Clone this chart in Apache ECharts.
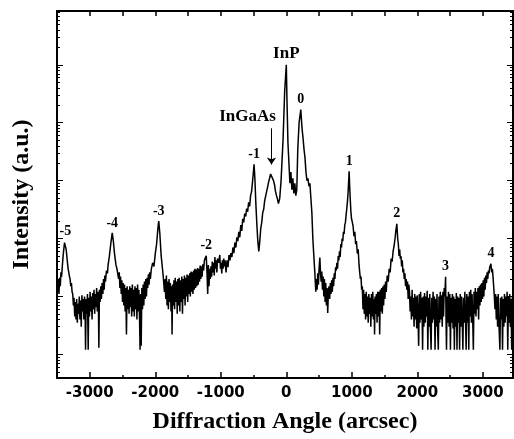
<!DOCTYPE html>
<html>
<head>
<meta charset="utf-8">
<script src="https://cdn.jsdelivr.net/npm/echarts@6/dist/echarts.min.js"></script>
<style>
  html, body { margin: 0; padding: 0; background: #fff; }
  #chart { width: 514px; height: 439px; }
</style>
</head>
<body>
<div id="chart"></div>
<script>
// angle (arcsec), intensity (counts)
const satMinus5to4 = [
  [-3500,180],[-3490,120],[-3480,200],[-3470,110],[-3460,210],[-3450,150],[-3440,260],[-3430,220],
  [-3420,320],[-3410,450],[-3400,600],[-3385,850],[-3372,877],[-3360,650],[-3350,500],[-3340,380],
  [-3330,300],[-3320,260],[-3310,220],[-3300,200],[-3290,150],[-3280,170],[-3270,120],[-3260,110],
  [-3250,70],[-3240,95],[-3230,45],[-3220,80],[-3210,40],[-3200,90],[-3190,35],[-3180,75],
  [-3170,50],[-3160,100],[-3150,40],[-3140,85],[-3130,30],[-3120,105],[-3110,55],[-3100,90],
  [-3090,40],[-3080,100],[-3070,45],[-3064,12],[-3055,90],[-3045,50],[-3035,110],[-3024,12],
  [-3015,95],[-3005,45],[-2995,120],[-2985,55],[-2975,100],[-2965,40],[-2955,115],[-2945,60],
  [-2935,130],[-2925,50],[-2915,110],[-2905,65],[-2895,140],[-2885,55],[-2875,120],[-2868,70],
  [-2861,13],[-2852,130],[-2842,80],[-2832,150],[-2822,90],[-2812,170],[-2800,110],[-2790,200],
  [-2780,130],[-2770,230],[-2760,180],[-2745,280],[-2730,250],[-2720,350],[-2700,500],[-2680,800],
  [-2657,1250],[-2640,900],[-2620,520],[-2600,350],[-2585,300]
];

const satMinus3to2 = [
  [-2570,280],[-2560,200],[-2550,260],[-2540,140],[-2530,220],[-2520,110],[-2510,190],[-2500,80],
  [-2490,170],[-2480,70],[-2470,160],[-2460,55],[-2450,140],[-2440,22],[-2430,150],[-2420,60],
  [-2410,130],[-2400,50],[-2390,150],[-2380,65],[-2370,140],[-2360,45],[-2350,160],[-2340,55],
  [-2330,130],[-2320,45],[-2310,150],[-2300,60],[-2290,140],[-2280,40],[-2270,160],[-2260,55],
  [-2250,130],[-2240,40],[-2232,12],[-2224,110],[-2215,14],[-2205,140],[-2195,60],[-2185,160],
  [-2175,70],[-2165,180],[-2155,90],[-2145,200],[-2135,100],[-2125,210],[-2115,140],[-2105,240],
  [-2095,160],[-2085,260],[-2075,200],[-2060,300],[-2040,380],[-2020,330],[-2000,550],[-1980,800],
  [-1960,1500],[-1947,2010],[-1930,1200],[-1910,500],[-1890,300],[-1880,230],[-1870,230],[-1860,120],
  [-1850,200],[-1840,90],[-1830,230],[-1820,70],[-1810,180],[-1800,60],[-1790,200],[-1780,80],
  [-1770,170],[-1760,55],[-1750,150],[-1744,22],[-1735,160],[-1725,70],[-1715,190],[-1705,60],
  [-1695,210],[-1685,80],[-1675,180],[-1665,50],[-1655,200],[-1645,70],[-1635,210],[-1625,55],
  [-1615,190],[-1605,80],[-1595,220],[-1585,50],[-1575,200],[-1565,90],[-1555,230],[-1545,70],
  [-1535,210],[-1525,100],[-1515,240],[-1505,80],[-1495,230],[-1485,110],[-1475,250],[-1465,100],
  [-1455,270],[-1445,120],[-1435,260],[-1425,110],[-1415,280],[-1405,130],[-1395,300],[-1385,140],
  [-1375,290],[-1365,150],[-1355,310],[-1345,160],[-1335,300],[-1325,180],[-1315,340],[-1305,200],
  [-1295,330],[-1285,220],[-1275,360],[-1262,280],[-1250,420],[-1238,460],[-1222,504],[-1210,250],
  [-1200,110],[-1190,350],[-1180,150],[-1170,300],[-1160,200],[-1150,330],[-1140,220],[-1130,400],
  [-1120,260],[-1110,380],[-1100,230],[-1090,480],[-1080,300],[-1070,420],[-1060,260],[-1050,450],
  [-1035,380],[-1015,520],[-1005,300],[-995,380],[-985,250],[-975,420],[-965,300],[-955,450]
];

const centre = [
  [-945,330],[-935,420],[-920,260],[-905,420],[-890,320],[-875,520],[-860,420],[-845,560],
  [-830,480],[-815,700],[-800,560],[-785,850],[-770,700],[-755,1050],[-740,900],[-725,1300],
  [-710,1050],[-695,1700],[-680,1350],[-665,2200],[-650,1900],[-635,2700],[-620,2400],[-605,3300],
  [-590,2900],[-575,4200],[-560,3600],[-545,5500],[-530,6500],[-518,9000],[-505,13000],[-492,19200],
  [-480,11000],[-465,4000],[-450,1800],[-435,900],[-420,600],[-405,900],[-390,1500],[-375,1900],
  [-360,2800],[-345,3200],[-330,4500],[-315,4800],[-300,6500],[-285,7800],[-270,9500],[-255,11000],
  [-240,13000],[-226,14000],[-210,12500],[-195,10000],[-180,8500],[-165,6500],[-150,5500],[-135,4800],
  [-120,4000],[-110,3800],[-100,5000],[-80,10000],[-50,50000],[-25,350000],[0,1000000],[10,250000],
  [25,45000],[40,20000],[55,9000],[70,14000],[85,7000],[100,11000],[115,6000],[130,9000],
  [145,5500],[160,7000],[175,35000],[195,100000],[221,169000],[240,80000],[255,55000],[270,35000],
  [285,25000],[300,14000],[315,10000],[330,11000],[345,8000],[360,9000],[375,5000],[390,2800],
  [405,1000],[420,500],[435,260]
];

const satPlus1to2 = [
  [450,120],[460,200],[470,130],[480,250],[490,160],[500,300],[512,470],[522,250],
  [532,180],[542,270],[552,130],[562,220],[572,100],[582,200],[592,80],[602,170],
  [612,70],[622,140],[632,52],[642,120],[652,150],[662,90],[672,170],[682,110],
  [692,190],[702,120],[712,210],[722,150],[732,250],[742,200],[752,320],[762,280],
  [772,380],[782,300],[792,500],[802,420],[812,600],[822,480],[832,800],[842,700],
  [852,1000],[862,900],[872,1300],[882,1200],[892,1700],[902,1900],[912,2500],[922,3200],
  [932,4200],[942,6000],[950,9000],[959,14500],[967,8000],[975,5000],[985,3000],[995,2200],
  [1008,1900],[1020,1600],[1033,1100],[1046,1300],[1058,800],[1070,900],[1084,550],[1097,650],
  [1110,350],[1122,250],[1131,200],[1140,220],[1150,130],[1160,150],[1170,60],[1180,130],
  [1190,50],[1200,110],[1210,40],[1220,120],[1230,45],[1240,100],[1250,35],[1260,110],
  [1270,50],[1280,95],[1290,30],[1300,110],[1310,45],[1320,120],[1330,40],[1340,90],
  [1347,22],[1355,100],[1365,50],[1375,110],[1385,35],[1395,120],[1405,45],[1415,120],
  [1425,22],[1435,130],[1445,55],[1455,140],[1465,50],[1475,150],[1485,70],[1495,160],
  [1505,90],[1515,180],[1525,120],[1540,230],[1555,180],[1570,300],[1585,260],[1600,450],
  [1615,400],[1630,600],[1645,750],[1660,1000],[1673,1400],[1687,1790],[1700,1000],[1710,800],
  [1720,500],[1730,650],[1740,450],[1750,500],[1760,330],[1770,420],[1780,260],[1790,300],
  [1800,200],[1810,250],[1820,150],[1830,200],[1840,130],[1850,180],[1860,90],[1870,160]
];

const satPlus3to4 = [
  [1880,120],[1890,55],[1900,100],[1910,40],[1920,130],[1930,45],[1940,95],[1950,30],
  [1960,110],[1970,40],[1980,100],[1990,28],[2000,105],[2010,45],[2020,14],[2030,110],
  [2040,35],[2050,120],[2060,40],[2070,95],[2080,12],[2090,100],[2100,30],[2110,115],
  [2120,35],[2130,100],[2140,45],[2150,125],[2160,12],[2170,95],[2180,30],[2190,110],
  [2200,28],[2210,12],[2220,95],[2230,35],[2240,120],[2250,40],[2260,100],[2270,12],
  [2280,90],[2290,30],[2300,110],[2310,25],[2320,12],[2330,100],[2340,35],[2350,120],
  [2360,40],[2370,105],[2380,30],[2390,120],[2400,45],[2410,140],[2420,100],[2431,219],
  [2438,40],[2445,12],[2455,100],[2465,35],[2475,120],[2485,30],[2495,110],[2505,12],
  [2515,95],[2525,35],[2535,110],[2545,28],[2555,100],[2565,12],[2575,90],[2585,30],
  [2595,115],[2605,12],[2615,100],[2625,35],[2635,95],[2645,12],[2655,110],[2665,30],
  [2675,100],[2685,40],[2695,12],[2705,95],[2715,35],[2725,120],[2735,40],[2745,12],
  [2755,110],[2765,35],[2775,100],[2785,12],[2795,120],[2805,45],[2815,130],[2825,35],
  [2835,110],[2845,40],[2855,12],[2865,120],[2875,50],[2885,140],[2895,45],[2905,120],
  [2915,60],[2925,140],[2935,40],[2945,150],[2955,70],[2965,160],[2975,80],[2985,170],
  [2995,90],[3005,190],[3015,100],[3025,210],[3035,130],[3045,230],[3055,170],[3065,260],
  [3075,200],[3085,280],[3095,250],[3105,320],[3123,367],[3135,260],[3145,300],[3155,220],
  [3165,150],[3175,100],[3185,60],[3195,110],[3205,40],[3215,100],[3225,30],[3235,110],
  [3245,35],[3260,12],[3270,95],[3280,40],[3290,100],[3300,12],[3310,90],[3320,30],
  [3330,110],[3340,35],[3350,100],[3360,45],[3370,120],[3380,12],[3390,100],[3400,35],
  [3410,110],[3420,30],[3430,90],[3440,12],[3450,100],[3460,40]
];

const peakLabels = ['-5', '-4', '-3', '-2', '-1', 'InP', '0', '1', '2', '3', '4'];
const peakAngles = [-3372, -2657, -1947, -1222, -492, 0, 221, 959, 1687, 2431, 3123];

const xLabels = [-3000, -2000, -1000, 0, 1000, 2000, 3000];
const xMinor = [-2500, -1500, -500, 500, 1500, 2500];
const yDecades = [1, 2, 3, 4, 5, 6];

const yMin = 3.9, yMax = 8.5e6;
const lgMin = Math.log10(yMin), lgMax = Math.log10(yMax);

const points = satMinus5to4.concat(satMinus3to2, centre, satPlus1to2, satPlus3to4);
const lookup = {};
points.forEach(p => { lookup[p[0]] = p[1]; });

const yMinor = [];
for (let n = 0; n <= 6; n++) {
  for (let k = 2; k <= 9; k++) {
    const v = Math.log10(k) + n;
    if (v > lgMin && v < lgMax) yMinor.push(v);
  }
}

const serif = '"Liberation Serif", "Times New Roman", serif';

const peakMarks = peakLabels.map((name, i) => {
  const a = peakAngles[i];
  return {
    name: name,
    coord: [a, lookup[a]],
    label: name === 'InP' ? { fontSize: 17 } : {}
  };
});
peakMarks.push({
  name: 'InGaAs',
  coord: [-226, 80000],
  label: { fontSize: 17, offset: [-24, 0] }
});

function tickAxis(pos, values, len) {
  return {
    type: 'value', position: pos, min: lgMin, max: lgMax,
    axisLine: { show: false, onZero: false },
    axisTick: { show: true, inside: true, length: len, customValues: values,
                lineStyle: { color: '#000', width: 1 } },
    axisLabel: { show: false },
    splitLine: { show: false }
  };
}

function xTickAxis(pos, values, len, labels) {
  return {
    type: 'value', position: pos, min: -3500, max: 3460,
    axisLine: { show: labels, onZero: false, lineStyle: { color: '#000', width: 2 } },
    axisTick: { show: true, inside: true, length: len, customValues: values,
                lineStyle: { color: '#000', width: 1.5 } },
    axisLabel: labels ? {
      show: true, customValues: values, margin: 8,
      formatter: v => String(v),
      color: '#000', fontWeight: 'bold', fontSize: 15,
      fontFamily: '"DejaVu Sans", sans-serif'
    } : { show: false },
    splitLine: { show: false }
  };
}

const chart = echarts.init(document.getElementById('chart'));

chart.setOption({
  animation: false,
  backgroundColor: '#fff',
  grid: { left: 57, right: 1, top: 11, bottom: 59 },
  xAxis: [
    Object.assign(xTickAxis('bottom', xLabels, 6, true), {
      name: 'Diffraction Angle (arcsec)',
      nameLocation: 'middle',
      nameGap: 32,
      nameTextStyle: { fontFamily: serif, fontWeight: 'bold', fontSize: 24, color: '#000' }
    }),
    xTickAxis('bottom', xMinor, 3, false),
    Object.assign(xTickAxis('top', xLabels.concat(xMinor), 5, false), {
      axisLine: { show: true, onZero: false, lineStyle: { color: '#000', width: 2 } }
    })
  ],
  yAxis: [
    {
      type: 'log', logBase: 10, min: yMin, max: yMax, position: 'left',
      axisLine: { show: true, onZero: false, lineStyle: { color: '#000', width: 2 } },
      axisTick: { show: false },
      axisLabel: { show: false },
      splitLine: { show: false },
      name: 'Intensity (a.u.)',
      nameLocation: 'middle',
      nameGap: 23,
      nameRotate: 90,
      nameTextStyle: { fontFamily: serif, fontWeight: 'bold', fontSize: 24, color: '#000' }
    },
    tickAxis('left', yDecades, 6),
    tickAxis('left', yMinor, 3),
    Object.assign(tickAxis('right', yDecades, 6), {
      axisLine: { show: true, onZero: false, lineStyle: { color: '#000', width: 2 } }
    }),
    tickAxis('right', yMinor, 3)
  ],
  series: [{
    type: 'line',
    xAxisIndex: 0,
    yAxisIndex: 0,
    data: points,
    showSymbol: false,
    symbol: 'none',
    lineStyle: { color: '#000', width: 1.5 },
    markPoint: {
      symbol: 'circle',
      symbolSize: 0,
      itemStyle: { color: 'transparent' },
      label: {
        show: true, position: 'top', distance: 3, formatter: '{b}',
        fontFamily: serif, fontWeight: 'bold', fontSize: 14, color: '#000'
      },
      data: peakMarks
    },
    markLine: {
      silent: true,
      symbol: ['none', 'arrow'],
      symbolSize: 7,
      label: { show: false },
      lineStyle: { color: '#000', width: 1, type: 'solid' },
      data: [[{ coord: [-226, 80000] }, { coord: [-226, 19000] }]]
    }
  }]
});
</script>
</body>
</html>
